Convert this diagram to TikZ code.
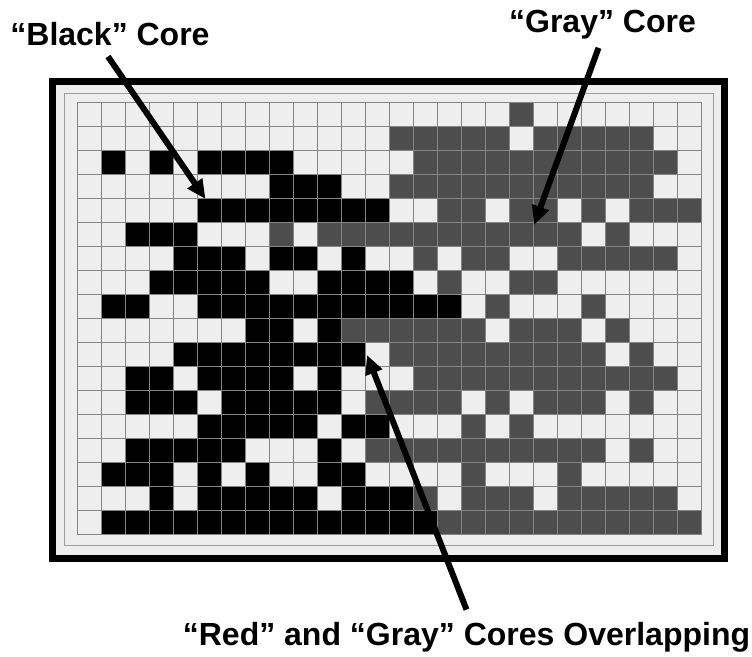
\documentclass[tikz,border=0pt]{standalone}
\usepackage{fontspec}
\setmainfont{Liberation Sans}
\usetikzlibrary{arrows.meta}
\definecolor{cell0}{HTML}{EEEEEE}
\definecolor{cell1}{HTML}{000000}
\definecolor{cell2}{HTML}{4D4D4D}
\definecolor{gridline}{HTML}{858585}
\begin{document}
\begin{tikzpicture}[x=1pt,y=-1pt,
  corelabel/.style={font=\fontsize{32}{37}\bfseries\selectfont, anchor=base, inner sep=2pt},
  pointer/.style={line width=6pt, -{Triangle[length=19pt,width=17pt]}}]
\useasboundingbox (0,0) rectangle (752,656);
\pgfmathsetmacro\cell{24}
\draw[line width=7pt, fill=cell0] (52.5,81.5) rectangle (724.5,558.5);
\draw[gridline!80, line width=1pt] (64,93.5) rectangle (713,545);
\foreach \rowvals [count=\r from 0] in {
  {0,0,0,0,0,0,0,0,0,0,0,0,0,0,0,0,0,0,2,0,0,0,0,0,0,0},
  {0,0,0,0,0,0,0,0,0,0,0,0,0,2,2,2,2,2,0,2,2,2,2,2,0,0},
  {0,1,0,1,0,1,1,1,1,0,0,0,0,0,2,2,2,2,2,2,2,2,2,2,2,0},
  {0,0,0,0,0,0,0,0,1,1,1,0,0,2,2,2,2,2,2,2,2,2,2,2,0,0},
  {0,0,0,0,0,1,1,1,1,1,1,1,1,0,0,2,2,0,2,2,0,2,0,2,2,2},
  {0,0,1,1,1,0,0,0,2,0,2,2,2,2,2,2,2,2,2,2,2,0,2,0,0,0},
  {0,0,0,0,1,1,1,0,1,1,0,1,0,0,2,0,2,2,0,0,2,2,2,2,2,0},
  {0,0,0,1,1,1,1,1,0,0,1,1,1,1,0,2,0,0,2,2,0,0,0,0,0,0},
  {0,1,1,0,0,1,1,1,1,1,1,1,1,1,1,1,0,2,0,0,0,2,0,0,0,0},
  {0,0,0,0,0,0,0,1,1,0,1,2,2,2,2,2,2,0,2,2,2,0,2,0,0,0},
  {0,0,0,0,1,1,1,1,1,1,1,1,0,2,2,2,2,2,2,2,2,2,0,2,0,0},
  {0,0,1,1,0,1,1,1,1,0,1,0,0,0,2,2,2,2,2,2,2,2,2,2,2,0},
  {0,0,1,1,1,0,1,1,1,1,1,0,2,2,2,2,0,2,0,2,2,2,0,2,0,0},
  {0,0,0,0,0,1,1,1,1,1,0,1,1,0,0,0,2,0,2,0,0,0,0,0,0,0},
  {0,0,1,1,1,1,1,0,0,0,1,0,2,2,2,2,2,2,2,2,2,2,0,2,0,0},
  {0,1,1,1,0,1,0,1,0,0,1,1,0,0,0,0,2,0,0,0,2,0,0,0,0,0},
  {0,0,0,1,0,1,1,1,1,1,0,1,1,1,2,0,2,2,2,0,2,2,2,2,2,0},
  {0,1,1,1,1,1,1,1,1,1,1,1,1,1,1,2,2,2,2,2,2,2,2,2,2,2}} {
  \foreach \v [count=\c from 0] in \rowvals
    \draw[fill=cell\v, draw=gridline] (77+\c*\cell,102+\r*\cell) rectangle ++(\cell,\cell);
}
\node[corelabel] (blacklbl) at (110,45) {“Black” Core};
\node[corelabel] (graylbl) at (602.5,32) {“Gray” Core};
\node[corelabel] (overlaplbl) at (466.5,645) {“Red” and “Gray” Cores Overlapping};
\coordinate (blacktip) at (205.5,199);
\coordinate (graytip) at (534,225);
\coordinate (overlaptip) at (367,355);
\draw[pointer] ([shift={(-2,9)}]blacklbl.south) -- (blacktip);
\draw[pointer] ([shift={(-4,7)}]graylbl.south) -- (graytip);
\draw[pointer] ([shift={(0,-10)}]overlaplbl.north) -- (overlaptip);
\end{tikzpicture}
\end{document}
